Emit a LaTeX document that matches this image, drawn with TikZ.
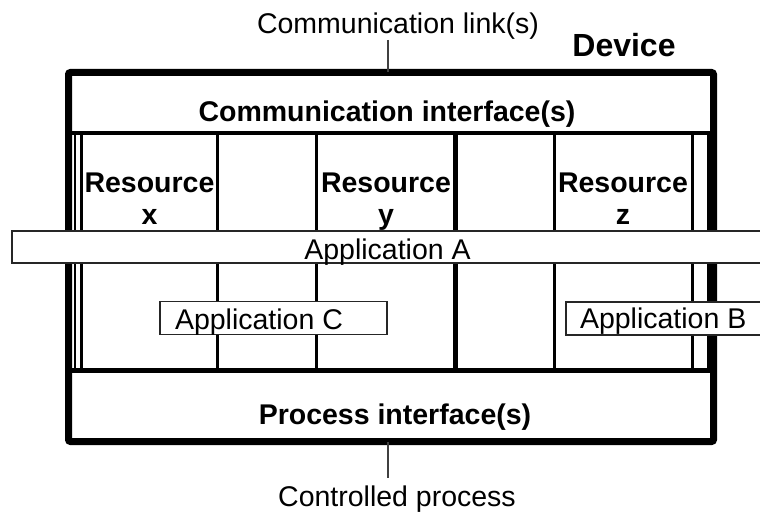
\documentclass[tikz,border=0pt]{standalone}
\usepackage{fontspec}
\setmainfont{Liberation Sans}
\begin{document}
\begin{tikzpicture}[x=1pt,y=-1pt,
  txt/.style={font=\fontsize{28.5}{32}\selectfont, inner sep=0pt, outer sep=0pt},
  boldtxt/.style={font=\fontsize{28.5}{32}\selectfont\bfseries, inner sep=0pt, outer sep=0pt},
  frame/.style={draw=black, line width=7pt, inner sep=0pt, outer sep=0pt, rounded corners=2pt},
  appbox/.style={draw=black!85, line width=1.3pt, fill=white, inner sep=0pt, outer sep=0pt},
  tick/.style={draw=black!75, line width=1.5pt}
]
\useasboundingbox (0,0) rectangle (760,516);

% device frame
\node[frame, minimum width=645pt, minimum height=369pt] (dev) at (391,257) {};

% interface separators
\draw[line width=4pt] (68.5,133) -- (713.5,133);
\draw[line width=5pt] (68.5,370.5) -- (713.5,370.5);

% resource column walls
\foreach \xx/\ww in {74.8/2.5pt, 81.3/2.5pt, 217.5/3.5pt, 316.5/3.5pt, 455.5/4.5pt,
                     554.5/3.5pt, 692.5/2.5pt, 708.5/3pt}
  \draw[line width=\ww] (\xx,133) -- (\xx,370.5);

% labels around and inside the device
\node[txt, anchor=base] (linklbl) at (398,34) {Communication link(s)};
\node[boldtxt, font=\fontsize{32}{36}\selectfont\bfseries, anchor=base] (devlbl) at (624,57) {Device};
\node[boldtxt, anchor=base] (commlbl) at (387,122) {Communication interface(s)};
\node[boldtxt, anchor=base] (proclbl) at (395,424) {Process interface(s)};
\node[txt, anchor=base] (ctrllbl) at (397,506) {Controlled process};

\node[boldtxt, anchor=base] (resx) at (149.5,192) {Resource};
\node[boldtxt, anchor=base] (resxl) at (149.5,224) {x};
\node[boldtxt, anchor=base] (resy) at (386,192) {Resource};
\node[boldtxt, anchor=base] (resyl) at (386,224) {y};
\node[boldtxt, anchor=base] (resz) at (623,192) {Resource};
\node[boldtxt, anchor=base] (reszl) at (623,224) {z};

% external links
\coordinate (linkfoot) at (388,40);
\draw[tick] (linkfoot) -- (linkfoot |- dev.north);
\coordinate (procfoot) at (388,478);
\draw[tick] (procfoot |- dev.south) -- (procfoot);

% applications spanning the resources
\node[appbox, minimum width=753pt, minimum height=32pt] (appA) at (388.5,247) {};
\node[appbox, minimum width=227pt, minimum height=32.5pt] (appC) at (273.5,318) {};
\node[appbox, minimum width=199pt, minimum height=33pt] (appB) at (665.5,318.5) {};

\node[txt, anchor=base] (appAt) at (387.5,259) {Application A};
\node[txt, anchor=base west] (appCt) at (175,329) {Application C};
\node[txt, anchor=base west] (appBt) at (580,328) {Application B};
\end{tikzpicture}
\end{document}
